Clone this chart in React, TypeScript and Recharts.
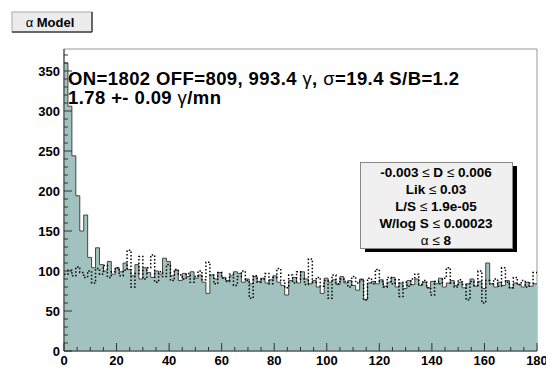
import { ComposedChart, Area, Line, XAxis, YAxis, ReferenceArea } from "recharts";

const FONT = '"Liberation Sans", Arial, Helvetica, sans-serif';
const AXIS_COLOR = "#333";
const FILL = "#a1c2be";

// alpha histogram, 1.5 degree bins over 0..180
const BIN_WIDTH = 1.5;

const ON_COUNTS = [
  360, 306, 244, 194, 150, 170, 117, 104,
  129, 108, 100, 112, 96, 104, 99, 110,
  102, 94, 108, 90, 104, 98, 92, 100,
  96, 116, 112, 94, 101, 88, 97, 93,
  99, 91, 95, 86, 72, 95, 90, 98,
  92, 88, 94, 99, 97, 86, 90, 84,
  93, 87, 91, 85, 89, 94, 86, 82,
  70, 88, 92, 85, 99, 90, 84, 88,
  80, 72, 91, 86, 89, 83, 93, 85,
  88, 82, 76, 90, 64, 85, 87, 84,
  89, 81, 86, 92, 80, 85, 78, 88,
  83, 90, 82, 86, 79, 87, 84, 91,
  80, 85, 88, 82, 86, 79, 84, 90,
  81, 87, 78, 110, 84, 80, 86, 82,
  88, 79, 85, 83, 80, 86, 81, 84,
];

const OFF_COUNTS = [
  96, 101, 94, 105, 98, 92, 100, 85,
  103, 96, 107, 92, 99, 104, 94, 101,
  126, 80, 97, 118, 90, 104, 120, 86,
  99, 93, 108, 88, 102, 95, 90, 97,
  86, 93, 100, 89, 111, 95, 84, 98,
  91, 87, 96, 82, 93, 100, 88, 66,
  94, 86, 90, 97, 84, 92, 103, 88,
  79, 95, 85, 99, 90, 83, 115, 86,
  92, 81, 88, 66, 95, 84, 90, 87,
  80, 93, 85, 89, 64, 91, 84, 102,
  87, 80, 92, 84, 89, 68, 86, 81,
  90, 96, 83, 88, 79, 70, 87, 84,
  91, 104, 85, 80, 89, 83, 64, 87,
  82, 100, 60, 88, 84, 90, 81, 104,
  86, 79, 92, 83, 88, 80, 85, 98,
];

const X_TICKS = [
  0, 5, 10, 15, 20, 25, 30, 35, 40, 45, 50, 55, 60, 65, 70, 75, 80, 85, 90,
  95, 100, 105, 110, 115, 120, 125, 130, 135, 140, 145, 150, 155, 160, 165,
  170, 175, 180,
];
const Y_TICKS = [
  0, 10, 20, 30, 40, 50, 60, 70, 80, 90, 100, 110, 120, 130, 140, 150, 160,
  170, 180, 190, 200, 210, 220, 230, 240, 250, 260, 270, 280, 290, 300, 310,
  320, 330, 340, 350, 360, 370,
];
const Y_MAX = 377.5;

const CUTS = [
  "-0.003 \u2264 D \u2264 0.006",
  "Lik \u2264 0.03",
  "L/S \u2264 1.9e-05",
  "W/log S \u2264 0.00023",
  "\u03b1 \u2264 8",
];

// one row per bin edge; the last edge repeats the final bin so the step closes
const last = ON_COUNTS.length - 1;
const rows = ON_COUNTS.map((on, i) => ({ x: i * BIN_WIDTH, on, off: OFF_COUNTS[i] }));
rows.push({ x: ON_COUNTS.length * BIN_WIDTH, on: ON_COUNTS[last], off: OFF_COUNTS[last] });

function XTick(props: any) {
  const { x, y, payload } = props;
  const major = payload.value % 20 === 0;
  return (
    <g>
      <line x1={x} x2={x} y1={y} y2={y - (major ? 8 : 4)} stroke={AXIS_COLOR} />
      {major && (
        <text x={x} y={y + 14} textAnchor="middle" fontFamily={FONT} fontWeight="bold" fontSize={13} fill="#000">
          {payload.value}
        </text>
      )}
    </g>
  );
}

function YTick(props: any) {
  const { x, y, payload } = props;
  const major = payload.value % 50 === 0;
  return (
    <g>
      <line x1={x} x2={x + (major ? 8 : 4)} y1={y} y2={y} stroke={AXIS_COLOR} />
      {major && (
        <text x={x - 4} y={y + 4.5} textAnchor="end" fontFamily={FONT} fontWeight="bold" fontSize={13} fill="#000">
          {payload.value}
        </text>
      )}
    </g>
  );
}

// splits a string so greek letters and relations are drawn in a plain weight
function Sym({ text }: { text: string }) {
  const parts = text.split(/([\u03b1-\u03c9\u2264])/);
  return (
    <>
      {parts.map((p, i) =>
        /[\u03b1-\u03c9\u2264]/.test(p) ? (
          <tspan key={i} fontWeight="normal">{p}</tspan>
        ) : (
          <tspan key={i}>{p}</tspan>
        )
      )}
    </>
  );
}

function Overlay() {
  return (
    <svg width={546} height={367} style={{ position: "absolute", left: 0, top: 0, pointerEvents: "none" }}>
      {/* title button */}
      <rect x={12} y={12} width={80} height={20} fill="#ececec" stroke="#aaa" />
      <line x1={92} x2={92} y1={12} y2={32} stroke="#444" strokeWidth={1.5} />
      <line x1={12} x2={92} y1={32} y2={32} stroke="#444" strokeWidth={1.5} />
      <text x={50} y={26.5} textAnchor="middle" fontFamily={FONT} fontWeight="bold" fontSize={13}>
        <Sym text={"\u03b1 Model"} />
      </text>

      {/* fit summary */}
      <text x={68} y={85} fontFamily={FONT} fontWeight="bold" fontSize={18.5} letterSpacing={0.4}>
        <Sym text={"ON=1802 OFF=809, 993.4 \u03b3, \u03c3=19.4 S/B=1.2"} />
      </text>
      <text x={68} y={104} fontFamily={FONT} fontWeight="bold" fontSize={18.5} letterSpacing={0.4}>
        <Sym text={"1.78 +- 0.09 \u03b3/mn"} />
      </text>

      {/* cuts pave */}
      <rect x={365} y={166} width={152} height={86} fill="#000" />
      <rect x={360.5} y={162.5} width={152} height={86} fill="#f0f0f0" stroke="#888" />
      {CUTS.map((c, i) => (
        <text key={c} x={436} y={177 + i * 17} textAnchor="middle" fontFamily={FONT} fontWeight="bold" fontSize={13.5}>
          <Sym text={c} />
        </text>
      ))}
    </svg>
  );
}

export default function App() {
  return (
    <div style={{ position: "absolute", left: 0, top: 0, width: 546, height: 367, background: "#fff" }}>
      <ComposedChart width={546} height={367} data={rows} margin={{ top: 49, right: 9, bottom: 0, left: 14 }}>
        <ReferenceArea x1={0} x2={180} y1={0} y2={Y_MAX} fill="none" stroke="#999" ifOverflow="extendDomain" />
        <XAxis
          dataKey="x"
          type="number"
          domain={[0, 180]}
          ticks={X_TICKS}
          interval={0}
          height={16}
          tickSize={0}
          tickMargin={0}
          tickLine={false}
          axisLine={{ stroke: AXIS_COLOR }}
          tick={<XTick />}
        />
        <YAxis
          type="number"
          domain={[0, Y_MAX]}
          allowDataOverflow
          ticks={Y_TICKS}
          interval={0}
          width={50}
          tickSize={0}
          tickMargin={0}
          tickLine={false}
          axisLine={{ stroke: AXIS_COLOR }}
          tick={<YTick />}
        />
        <Area
          dataKey="on"
          type="stepAfter"
          fill={FILL}
          fillOpacity={1}
          stroke="#444"
          strokeWidth={1}
          isAnimationActive={false}
        />
        <Line
          dataKey="off"
          type="stepAfter"
          stroke="#000"
          strokeWidth={1.5}
          strokeDasharray="1.5 2"
          dot={false}
          isAnimationActive={false}
        />
      </ComposedChart>
      <Overlay />
    </div>
  );
}
